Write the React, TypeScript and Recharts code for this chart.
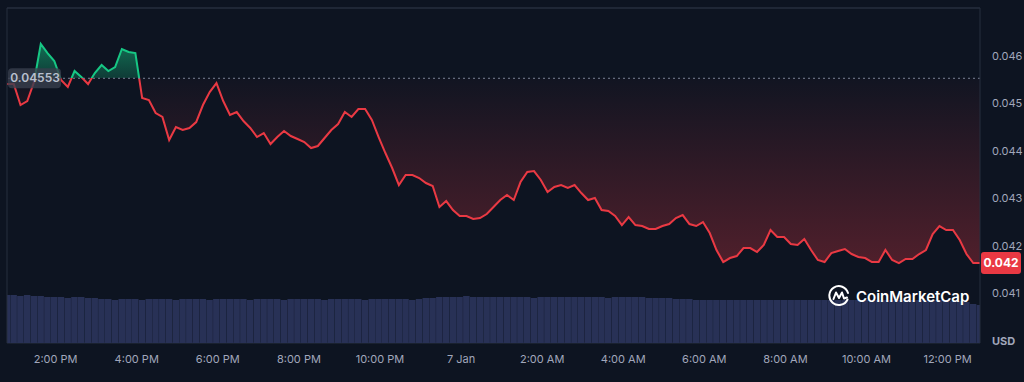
import { ComposedChart, Area, Bar, XAxis, YAxis, CartesianGrid, ReferenceLine } from 'recharts';

document.body.style.margin = '0';
document.body.style.background = '#0d1421';

// price every 10 minutes, starting 12:48 PM
const PRICES = [
  0.045409, 0.045409, 0.044966, 0.045051, 0.045451, 0.046253, 0.046063, 0.045895, 0.045494, 0.045346,
  0.045684, 0.045557, 0.045409, 0.045641, 0.045810, 0.045684, 0.045768, 0.046148, 0.046084, 0.046063,
  0.045114, 0.045072, 0.044797, 0.044713, 0.044228, 0.044502, 0.044439, 0.044481, 0.044607, 0.044966,
  0.045240, 0.045430, 0.045051, 0.044755, 0.044818, 0.044628, 0.044481, 0.044291, 0.044375, 0.044143,
  0.044291, 0.044417, 0.044312, 0.044249, 0.044185, 0.044059, 0.044101, 0.044270, 0.044439, 0.044565,
  0.044818, 0.044713, 0.044882, 0.044882, 0.044650, 0.044291, 0.043953, 0.043637, 0.043278, 0.043489,
  0.043489, 0.043426, 0.043320, 0.043257, 0.042814, 0.042940, 0.042751, 0.042624, 0.042624, 0.042561,
  0.042582, 0.042666, 0.042814, 0.042962, 0.043067, 0.042962, 0.043341, 0.043552, 0.043573, 0.043384,
  0.043130, 0.043236, 0.043278, 0.043215, 0.043278, 0.043109, 0.042962, 0.043004, 0.042751, 0.042729,
  0.042624, 0.042434, 0.042603, 0.042434, 0.042413, 0.042350, 0.042350, 0.042413, 0.042455, 0.042582,
  0.042645, 0.042455, 0.042413, 0.042497, 0.042265, 0.041907, 0.041653, 0.041738, 0.041780, 0.041949,
  0.041949, 0.041864, 0.042012, 0.042329, 0.042181, 0.042181, 0.042033, 0.042012, 0.042139, 0.041907,
  0.041696, 0.041653, 0.041843, 0.041885, 0.041928, 0.041822, 0.041759, 0.041738, 0.041653, 0.041653,
  0.041907, 0.041696, 0.041632, 0.041717, 0.041717, 0.041822, 0.041907, 0.042244, 0.042413, 0.042329,
  0.042329, 0.042118, 0.041822, 0.041632, 0.041632,
];

// volume (M USD) for the same intervals
const VOLUMES = [
  4.8, 4.8, 4.7, 4.8, 4.7, 4.7, 4.6,
  4.6, 4.6, 4.5, 4.6, 4.6, 4.5, 4.5,
  4.4, 4.4, 4.3, 4.4, 4.4, 4.4, 4.3, 4.4, 4.4, 4.4,
  4.4, 4.3, 4.4, 4.4, 4.4, 4.4, 4.3, 4.4, 4.4, 4.4,
  4.4, 4.4, 4.3, 4.4, 4.4, 4.4, 4.4, 4.3, 4.4, 4.4,
  4.4, 4.4, 4.4, 4.3, 4.4, 4.4, 4.4, 4.4, 4.4, 4.3,
  4.4, 4.4, 4.4, 4.4, 4.4, 4.4, 4.3, 4.4, 4.5, 4.5,
  4.6, 4.6, 4.6, 4.6, 4.7, 4.6, 4.6, 4.6, 4.6, 4.6,
  4.6, 4.6, 4.6, 4.6, 4.5, 4.6, 4.6, 4.6, 4.6, 4.6,
  4.6, 4.6, 4.6, 4.6, 4.6, 4.5, 4.6, 4.6, 4.6, 4.6,
  4.6, 4.5, 4.5, 4.5, 4.5, 4.4, 4.4, 4.4,
  4.3, 4.3, 4.3, 4.3, 4.3, 4.3, 4.3, 4.3, 4.3, 4.3,
  4.3, 4.3, 4.3, 4.3, 4.3, 4.3, 4.3, 4.3, 4.3, 4.3,
  4.3, 4.3, 4.3, 4.3, 4.3, 4.3, 4.3, 4.3, 4.3, 4.3,
  4.3, 4.3, 4.3, 4.3, 4.3, 4.3, 4.3, 4.3, 4.2, 4.2,
  4.1,
  3.9, 3.8,
];

const STEP_MIN = 10;
const TICK_TIMES = [72, 192, 312, 432, 552, 672, 792, 912, 1032, 1152, 1272, 1392];
const TICK_LABELS = ['2:00 PM', '4:00 PM', '6:00 PM', '8:00 PM', '10:00 PM', '7 Jan', '2:00 AM', '4:00 AM', '6:00 AM', '8:00 AM', '10:00 AM', '12:00 PM'];
const PRICE_TICKS = [0.041, 0.042, 0.043, 0.044, 0.045, 0.046];
const PRICE_DOMAIN = [0.039945, 0.047013];
const OPEN_PRICE = 0.04553;

const GREEN = '#16c784';
const RED = '#ea3943';
const GRID = '#262e3e';
const TEXT = '#a1a7bb';

const data = PRICES.map((price, i) => ({ t: i * STEP_MIN, price, volume: VOLUMES[i] }));
const LAST = PRICES[PRICES.length - 1];
const maxP = Math.max(...PRICES);
const minP = Math.min(...PRICES);
const off = (maxP - OPEN_PRICE) / (maxP - minP);

const OpenTag = ({ viewBox }: any) => {
  const { x, y } = viewBox;
  return (
    <g>
      <rect x={x + 1} y={y - 10} width={53} height={20} rx={4} fill="rgba(56,62,78,0.8)" />
      <text x={x + 28} y={y} dy="0.35em" textAnchor="middle" fill="#b9c0ce" fontSize={12} fontWeight={600} fontFamily="Inter">
        {OPEN_PRICE.toFixed(5)}
      </text>
    </g>
  );
};

const LastTag = ({ viewBox }: any) => {
  const { x, y, width } = viewBox;
  return (
    <g>
      <rect x={x + width + 1} y={y - 11} width={40} height={22} rx={3} fill={RED} />
      <text x={x + width + 21} y={y} dy="0.35em" textAnchor="middle" fill="#ffffff" fontSize={12} fontWeight={700} fontFamily="Inter">
        {LAST.toFixed(3)}
      </text>
    </g>
  );
};

export default function App() {
  return (
    <div style={{ position: 'relative', width: 1024, height: 382, background: '#0d1421', fontFamily: 'Inter' }}>
      <ComposedChart width={1024} height={382} data={data} margin={{ top: 8, right: 0, left: 7, bottom: 0 }}>
        <defs>
          <linearGradient id="lineStroke" x1="0" y1="0" x2="0" y2="1">
            <stop offset={off} stopColor={GREEN} />
            <stop offset={off} stopColor={RED} />
          </linearGradient>
          <linearGradient id="areaFill" x1="0" y1="0" x2="0" y2="1">
            <stop offset={0} stopColor={GREEN} stopOpacity={0.5} />
            <stop offset={off} stopColor={GREEN} stopOpacity={0.22} />
            <stop offset={off} stopColor={RED} stopOpacity={0.02} />
            <stop offset={1} stopColor={RED} stopOpacity={0.3} />
          </linearGradient>
        </defs>
        <CartesianGrid stroke={GRID} vertical={false} />
        <XAxis
          dataKey="t"
          type="number"
          domain={[0, 1440]}
          allowDataOverflow
          ticks={TICK_TIMES}
          tickFormatter={(v: number) => TICK_LABELS[TICK_TIMES.indexOf(v)]}
          axisLine={false}
          tickLine={false}
          tickMargin={6}
          height={39}
          tick={{ fill: TEXT, fontSize: 11 }}
        />
        <YAxis
          yAxisId="price"
          orientation="right"
          type="number"
          domain={PRICE_DOMAIN}
          allowDataOverflow
          ticks={PRICE_TICKS}
          tickFormatter={(v: number) => v.toFixed(3)}
          axisLine={{ stroke: GRID }}
          tickLine={false}
          tickMargin={6}
          width={44}
          tick={{ fill: TEXT, fontSize: 11 }}
        />
        <YAxis yAxisId="vol" hide domain={[0, 33.5]} />
        <Bar yAxisId="vol" dataKey="volume" fill="#283156" barSize={6.5} isAnimationActive={false} />
        <Area
          yAxisId="price"
          type="linear"
          dataKey="price"
          baseValue={OPEN_PRICE}
          stroke="url(#lineStroke)"
          strokeWidth={2}
          fill="url(#areaFill)"
          fillOpacity={1}
          dot={false}
          activeDot={false}
          isAnimationActive={false}
        />
        <ReferenceLine yAxisId="price" y={PRICE_DOMAIN[1]} stroke={GRID} />
        <ReferenceLine yAxisId="price" x={0} stroke={GRID} />
        <ReferenceLine yAxisId="price" y={OPEN_PRICE} stroke="#7a8296" strokeDasharray="2 3" label={(p: any) => <OpenTag {...p} />} />
        <ReferenceLine yAxisId="price" y={LAST} stroke="none" label={(p: any) => <LastTag {...p} />} />
      </ComposedChart>

      <div style={{ position: 'absolute', left: 827, top: 284, display: 'flex', alignItems: 'center', gap: 5 }}>
        <svg width={24} height={24} viewBox="0 0 24 24">
          <path d="M20.5 15.5 A9.5 9.5 0 1 1 21 9" fill="none" stroke="#ffffff" strokeWidth={2} strokeLinecap="round" />
          <path d="M6.5 15 L9 8.5 L12 14 L15 8.5 L17 14.5 L20 13.5" fill="none" stroke="#ffffff" strokeWidth={2} strokeLinejoin="round" strokeLinecap="round" />
        </svg>
        <span style={{ color: '#ffffff', fontSize: 15, fontWeight: 600 }}>CoinMarketCap</span>
      </div>
      <div style={{ position: 'absolute', left: 992, top: 334, color: TEXT, fontSize: 11, fontWeight: 700 }}>USD</div>
    </div>
  );
}
